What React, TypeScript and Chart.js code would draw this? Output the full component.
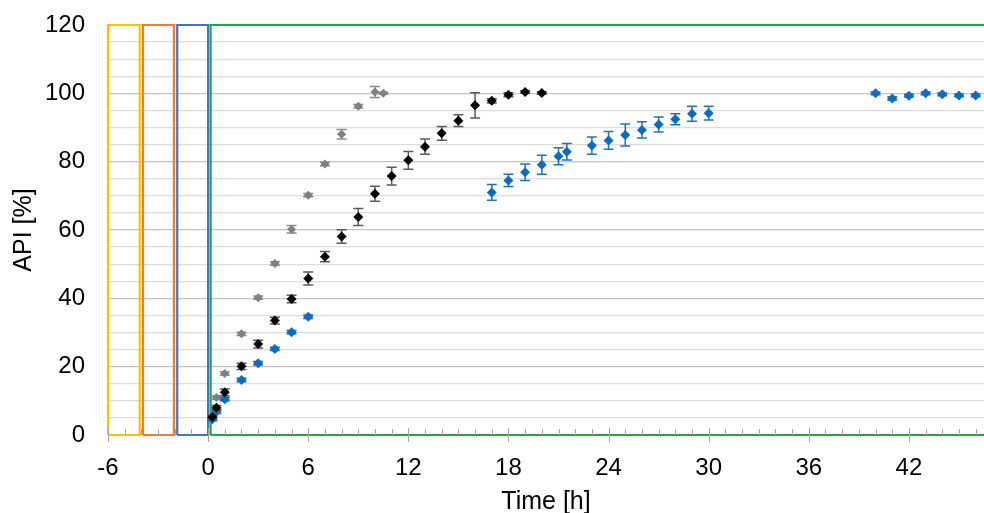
import React, { useEffect, useRef } from "react";
import { Chart, registerables } from "chart.js";

Chart.register(...registerables);

// ---- Data ----
const grayTimes = [0.25, 0.5, 1, 2, 3, 4, 5, 6, 7, 8, 9, 10, 10.5];
const grayValues = [5.0, 11.0, 18.0, 29.6, 40.2, 50.2, 60.2, 70.2, 79.3, 88.0, 96.2, 100.4, 100.0];
const grayErrors = [0.4, 0.5, 0.5, 0.5, 0.5, 0.5, 1.1, 0.5, 0.5, 1.4, 0.5, 1.6, 0.3];

const blackTimes = [0.25, 0.5, 1, 2, 3, 4, 5, 6, 7, 8, 9, 10, 11, 12, 13, 14, 15, 16, 17, 18, 19, 20];
const blackValues = [5.3, 8.0, 12.5, 20.1, 26.6, 33.5, 39.8, 45.8, 52.2, 58.1, 63.8, 70.6, 75.8, 80.4, 84.4, 88.3, 92.0, 96.5, 97.8, 99.6, 100.4, 100.1];
const blackErrors = [0.5, 0.6, 1.0, 0.9, 1.1, 1.0, 1.1, 1.9, 1.5, 2.0, 2.5, 2.2, 2.6, 2.6, 2.2, 2.0, 1.7, 3.7, 0.6, 0.6, 0.4, 0.4];

const blueTimes = [0.25, 0.5, 1, 2, 3, 4, 5, 6, 17, 18, 19, 20, 21, 21.5, 23, 24, 25, 26, 27, 28, 29, 30, 40, 41, 42, 43, 44, 45, 46];
const blueValues = [4.6, 6.8, 10.5, 16.1, 21.0, 25.2, 30.1, 34.6, 71.0, 74.5, 76.9, 79.1, 81.6, 82.9, 84.7, 86.2, 87.8, 89.3, 90.9, 92.4, 94.0, 94.2, 100.0, 98.5, 99.3, 100.0, 99.7, 99.4, 99.4];
const blueErrors = [0.4, 0.5, 0.5, 0.5, 0.5, 0.5, 0.5, 0.5, 2.3, 1.8, 2.4, 2.8, 2.5, 2.4, 2.5, 2.6, 3.2, 2.4, 2.2, 1.6, 2.2, 2.0, 0.4, 0.5, 0.4, 0.4, 0.4, 0.4, 0.4];

// Phase boxes (time span) and y range
const phaseStarts = [-6, -3.9, -1.85, 0.15];
const phaseEnds = [-4.1, -2.05, 0, 47];
const phaseColors = ["#FFC000", "#ED7D31", "#4472C4", "#1FA64A"];
const phaseBottom = 0;
const phaseTop = 120;

const xMin = -6;
const xMax = 46.5;
const xTickLabels = [-6, 0, 6, 12, 18, 24, 30, 36, 42];
const yMin = 0;
const yMax = 120;

const FONT = "'Liberation Sans', Arial, sans-serif";

function toPoints(xs: number[], ys: number[]) {
  return xs.map((x, i) => ({ x, y: ys[i] }));
}

function boxPoints(i: number) {
  const a = phaseStarts[i];
  const b = phaseEnds[i];
  return [
    { x: a, y: phaseBottom },
    { x: a, y: phaseTop },
    { x: b, y: phaseTop },
    { x: b, y: phaseBottom },
    { x: a, y: phaseBottom },
  ];
}

const errorBarPlugin = {
  id: "errorBars",
  beforeDatasetDraw(chart: any, args: any) {
    const ds = chart.data.datasets[args.index];
    if (!ds.errors) return;
    const meta = chart.getDatasetMeta(args.index);
    const ys = chart.scales.y;
    const ctx = chart.ctx;
    ctx.save();
    ctx.strokeStyle = ds.errorColor;
    ctx.lineWidth = 1.5;
    meta.data.forEach((pt: any, i: number) => {
      const v = ds.data[i].y;
      const e = ds.errors[i];
      const top = ys.getPixelForValue(v + e);
      const bot = ys.getPixelForValue(v - e);
      const x = pt.x;
      const cap = 5;
      ctx.beginPath();
      ctx.moveTo(x, top);
      ctx.lineTo(x, bot);
      ctx.moveTo(x - cap, top);
      ctx.lineTo(x + cap, top);
      ctx.moveTo(x - cap, bot);
      ctx.lineTo(x + cap, bot);
      ctx.stroke();
    });
    ctx.restore();
  },
};

const minorTickPlugin = {
  id: "minorTicks",
  afterDatasetsDraw(chart: any) {
    const xs = chart.scales.x;
    const ys = chart.scales.y;
    const ctx = chart.ctx;
    const y0 = ys.getPixelForValue(0);
    ctx.save();
    ctx.strokeStyle = "#A6A6A6";
    ctx.lineWidth = 1;
    for (let h = Math.ceil(xMin); h <= Math.floor(xMax); h++) {
      const x = Math.round(xs.getPixelForValue(h)) + 0.5;
      ctx.beginPath();
      if (h % 6 === 0) {
        ctx.moveTo(x, y0 - 7);
        ctx.lineTo(x, y0 + 7);
      } else {
        ctx.moveTo(x, y0 - 6);
        ctx.lineTo(x, y0);
      }
      ctx.stroke();
    }
    ctx.restore();
  },
};

export default function App() {
  const ref = useRef<HTMLCanvasElement | null>(null);

  useEffect(() => {
    if (!ref.current) return;
    const boxSets = phaseStarts.map((_, i) => ({
      type: "line" as const,
      data: boxPoints(i),
      borderColor: phaseColors[i],
      borderWidth: 2.2,
      pointRadius: 0,
      fill: false,
      tension: 0,
      clip: false,
      order: 10,
    }));

    const chart = new Chart(ref.current, {
      type: "scatter",
      data: {
        datasets: [
          ...boxSets,
          {
            type: "scatter",
            data: toPoints(grayTimes, grayValues),
            errors: grayErrors,
            errorColor: "#8C8C8C",
            pointStyle: "rectRot",
            pointRadius: 4.5,
            backgroundColor: "#808080",
            borderColor: "#808080",
            borderWidth: 0,
            order: 3,
          } as any,
          {
            type: "scatter",
            data: toPoints(blueTimes, blueValues),
            errors: blueErrors,
            errorColor: "#1F72BE",
            pointStyle: "rectRot",
            pointRadius: 5,
            backgroundColor: "#0F6CBD",
            borderColor: "#0F6CBD",
            borderWidth: 0,
            order: 2,
          } as any,
          {
            type: "scatter",
            data: toPoints(blackTimes, blackValues),
            errors: blackErrors,
            errorColor: "#5A5A5A",
            pointStyle: "rectRot",
            pointRadius: 5,
            backgroundColor: "#000000",
            borderColor: "#000000",
            borderWidth: 0,
            order: 1,
          } as any,
        ],
      },
      options: {
        animation: false,
        responsive: true,
        maintainAspectRatio: false,
        layout: { autoPadding: false, padding: { left: 0, right: 0, top: 25, bottom: 0 } },
        plugins: {
          legend: { display: false },
          tooltip: { enabled: false },
        },
        scales: {
          x: {
            type: "linear",
            min: xMin,
            max: xMax,
            border: { display: false },
            grid: { display: false, drawTicks: false },
            afterBuildTicks: (s: any) => {
              s.ticks = xTickLabels.map((v) => ({ value: v }));
            },
            ticks: {
              autoSkip: false,
              padding: 19,
              color: "#000",
              font: { family: FONT, size: 24 },
              maxRotation: 0,
            },
            title: {
              display: true,
              text: "Time [h]",
              color: "#000",
              font: { family: FONT, size: 25 },
              padding: { top: 0, bottom: -4 },
            },
            afterFit: (s: any) => {
              s.height = 78;
              s.paddingLeft = 0;
              s.paddingRight = 0;
            },
          },
          y: {
            type: "linear",
            min: yMin,
            max: yMax,
            border: { display: false },
            grid: {
              drawTicks: false,
              lineWidth: 1.3,
              color: (c: any) => (c.tick && c.tick.value % 20 === 0 ? "#C4C4C4" : "#DCDCDC"),
            },
            ticks: {
              stepSize: 5,
              autoSkip: false,
              padding: 23,
              color: "#000",
              font: { family: FONT, size: 24 },
              callback: (v: any) => (Number(v) % 20 === 0 ? String(v) : ""),
            },
            title: {
              display: true,
              text: "API [%]",
              color: "#000",
              font: { family: FONT, size: 25 },
              padding: { top: 9, bottom: 0 },
            },
            afterFit: (s: any) => {
              s.width = 108;
              s.paddingTop = 0;
              s.paddingBottom = 0;
            },
          },
        },
      } as any,
      plugins: [errorBarPlugin, minorTickPlugin],
    });
    return () => chart.destroy();
  }, []);

  return (
    <div style={{ position: "fixed", left: 0, top: 0, width: 984, height: 513, background: "#fff" }}>
      <canvas ref={ref} />
    </div>
  );
}
